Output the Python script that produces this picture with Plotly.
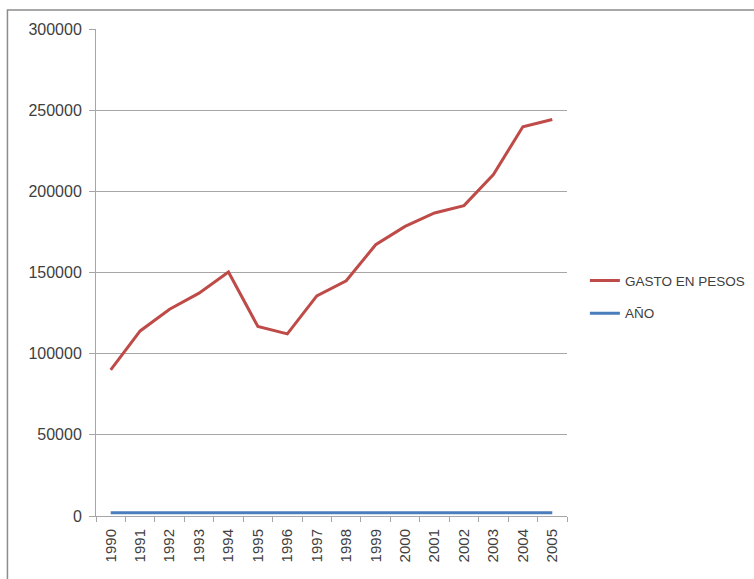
import plotly.graph_objects as go

years = ["1990", "1991", "1992", "1993", "1994", "1995", "1996", "1997",
         "1998", "1999", "2000", "2001", "2002", "2003", "2004", "2005"]
gasto = [90000, 114000, 127400, 137300, 150300, 116700, 112200, 135600,
         144900, 167100, 178400, 186700, 191200, 210300, 239800, 244300]
anio = [1990, 1991, 1992, 1993, 1994, 1995, 1996, 1997,
        1998, 1999, 2000, 2001, 2002, 2003, 2004, 2005]

FONT = "Liberation Sans"
TXT = "#404040"
GRID = "#a6a6a6"

fig = go.Figure()
fig.add_trace(go.Scatter(x=years, y=gasto, mode="lines", name="GASTO EN PESOS",
                         line=dict(color="#BE4B48", width=3), legendgroup="a"))
fig.add_trace(go.Scatter(x=years, y=anio, mode="lines", name="AÑO",
                         line=dict(color="#4A7EBB", width=3), legendgroup="b"))

fig.update_layout(
    width=754, height=579,
    margin=dict(l=96, r=187, t=29, b=63, autoexpand=False),
    paper_bgcolor="white", plot_bgcolor="white",
    font=dict(family=FONT, size=14, color=TXT),
    showlegend=True,
    legend=dict(x=1.038, y=0.449, xanchor="left", yanchor="middle",
                font=dict(family=FONT, size=13.5, color=TXT),
                itemwidth=30,
                traceorder="grouped", tracegroupgap=12,
                bgcolor="rgba(0,0,0,0)"),
    xaxis=dict(type="category", range=[-0.5, 15.5], tickangle=-90,
               tickson="boundaries",
               ticks="outside", ticklen=5, tickcolor=GRID,
               ticklabelstandoff=6,
               showline=True, linecolor=GRID, linewidth=1,
               showgrid=False, zeroline=False,
               tickfont=dict(family=FONT, size=15, color=TXT)),
    yaxis=dict(range=[0, 300000], dtick=50000, tickformat="d",
               ticks="outside", ticklen=6, tickcolor=GRID,
               ticklabelstandoff=4,
               showline=True, linecolor=GRID, linewidth=1,
               showgrid=True, gridcolor=GRID, gridwidth=1,
               zeroline=False,
               tickfont=dict(family=FONT, size=16, color=TXT)),
    shapes=[dict(type="rect", xref="paper", yref="paper",
                 x0=-0.188, x1=1.6, y0=-0.3, y1=1.039,
                 line=dict(color="#8c8c8c", width=1.5), layer="below")],
)

fig.write_html("out.html")
